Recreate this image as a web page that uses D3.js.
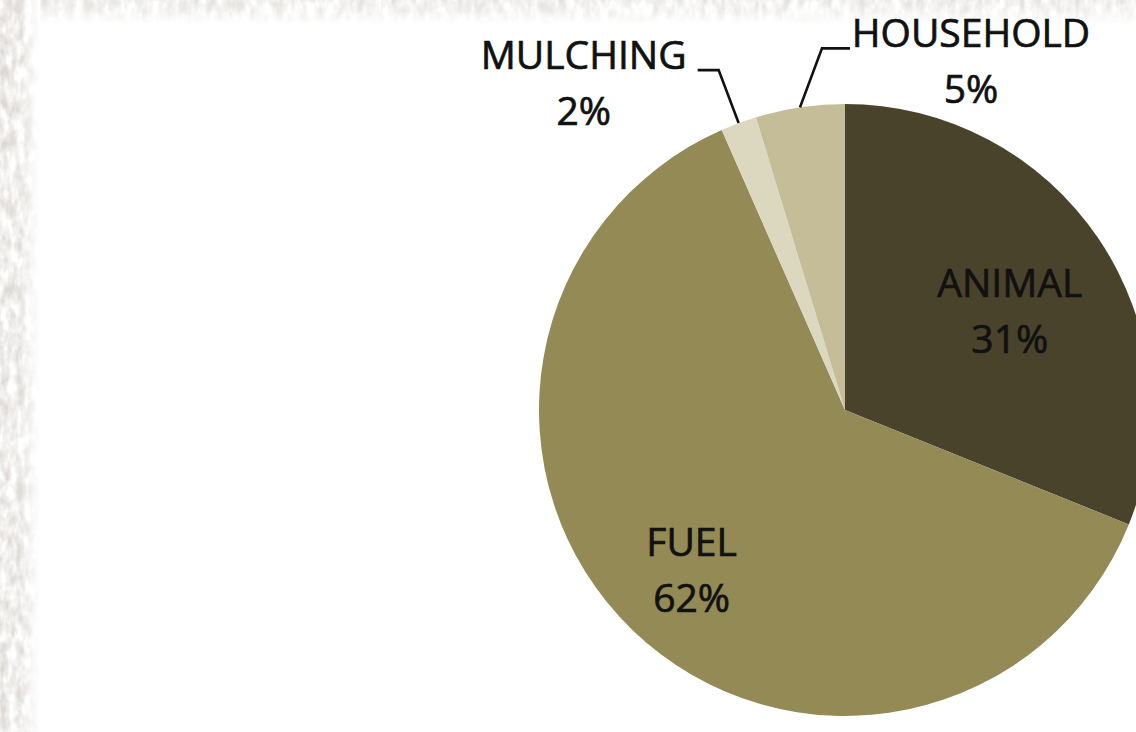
<!DOCTYPE html>
<html>
<head>
<meta charset="utf-8">
<script src="https://cdn.jsdelivr.net/npm/d3@7"></script>
<style>
  html, body { margin: 0; padding: 0; background: #fff; overflow: hidden; }
  svg { display: block; }
</style>
</head>
<body>
<div id="chart"></div>
<script>
// chart data
var categories = ['ANIMAL', 'FUEL', 'MULCHING', 'HOUSEHOLD'];
var values = [31.1, 62.3, 1.9, 4.7];
var labels = ['31%', '62%', '2%', '5%'];
var colors = ['#4a432b', '#938a55', '#dcd8c0', '#c4bd98'];

var width = 1136, height = 732;
var cx = 845, cy = 410, radius = 306;

var svg = d3.select('#chart').append('svg')
    .attr('width', width)
    .attr('height', height);

// textured frame on the left and top edge
var defs = svg.append('defs');
var filt = defs.append('filter').attr('id', 'stone')
    .attr('x', 0).attr('y', 0).attr('width', '100%').attr('height', '100%');
filt.append('feTurbulence')
    .attr('type', 'fractalNoise')
    .attr('baseFrequency', '0.12 0.06')
    .attr('numOctaves', 3)
    .attr('seed', 4);
filt.append('feColorMatrix')
    .attr('type', 'matrix')
    .attr('values', '0 0 0 0 0.72  0 0 0 0 0.69  0 0 0 0 0.66  -2.2 0 0 0 1.55');

var fadeL = defs.append('linearGradient').attr('id', 'fadeL')
    .attr('x1', 0).attr('x2', 1).attr('y1', 0).attr('y2', 0);
fadeL.append('stop').attr('offset', '0%').attr('stop-color', '#fff').attr('stop-opacity', 0);
fadeL.append('stop').attr('offset', '55%').attr('stop-color', '#fff').attr('stop-opacity', 0.15);
fadeL.append('stop').attr('offset', '100%').attr('stop-color', '#fff').attr('stop-opacity', 1);

var fadeT = defs.append('linearGradient').attr('id', 'fadeT')
    .attr('x1', 0).attr('x2', 0).attr('y1', 0).attr('y2', 1);
fadeT.append('stop').attr('offset', '0%').attr('stop-color', '#fff').attr('stop-opacity', 0.2);
fadeT.append('stop').attr('offset', '45%').attr('stop-color', '#fff').attr('stop-opacity', 0.45);
fadeT.append('stop').attr('offset', '100%').attr('stop-color', '#fff').attr('stop-opacity', 1);

var frame = svg.append('g');
frame.append('rect')
    .attr('x', 0).attr('y', 0).attr('width', width).attr('height', 24)
    .attr('fill', '#ece7e0')
    .attr('filter', 'url(#stone)');
frame.append('rect')
    .attr('x', 0).attr('y', 0).attr('width', width).attr('height', 24)
    .attr('fill', 'url(#fadeT)');
frame.append('rect')
    .attr('x', 0).attr('y', 0).attr('width', 40).attr('height', height)
    .attr('fill', '#d2c9bf')
    .attr('filter', 'url(#stone)');
frame.append('rect')
    .attr('x', 0).attr('y', 0).attr('width', 40).attr('height', height)
    .attr('fill', 'url(#fadeL)');

// pie
var pie = d3.pie().sort(null).value(d => d);
var arcs = pie(values);

var arc = d3.arc().innerRadius(0).outerRadius(radius);
var edge = d3.arc().innerRadius(radius).outerRadius(radius);

var g = svg.append('g')
    .attr('transform', 'translate(' + cx + ',' + cy + ')');

g.selectAll('path.slice')
    .data(arcs)
    .enter().append('path')
    .attr('class', 'slice')
    .attr('d', arc)
    .attr('fill', (d, i) => colors[i]);

var fontSize = 39, lineGap = 56;
var font = '"Open Sans", "DejaVu Sans", sans-serif';

function label(x, y, i) {
    var t = g.append('text')
        .attr('text-anchor', 'middle')
        .attr('font-family', font)
        .attr('font-size', fontSize)
        .attr('fill', '#111')
        .attr('stroke', '#111')
        .attr('stroke-width', 0.7);
    t.append('tspan').attr('x', x).attr('y', y).text(categories[i]);
    t.append('tspan').attr('x', x).attr('y', y + lineGap).text(labels[i]);
}

// inside labels (animal, fuel)
var inside = {
    0: {r: 0.63, nudge: [5, 9]},
    1: {r: 0.73, nudge: [2, 0]}
};
[0, 1].forEach(i => {
    var r = radius * inside[i].r;
    var c = d3.arc().innerRadius(r).outerRadius(r).centroid(arcs[i]);
    label(c[0] + inside[i].nudge[0], c[1] - 14 + inside[i].nudge[1], i);
});

// outside labels with leader lines (mulching, household)
var leaders = {
    2: {elbow: [-20, -53], run: -21, text: [-114, -1]},
    3: {elbow: [22, -59], run: 28, text: [121, -1]}
};
[2, 3].forEach(i => {
    var p = edge.centroid(arcs[i]);
    var L = leaders[i];
    var e = [p[0] + L.elbow[0], p[1] + L.elbow[1]];
    var end = [e[0] + L.run, e[1]];
    g.append('path')
        .attr('d', d3.line()([p, e, end]))
        .attr('fill', 'none')
        .attr('stroke', '#111')
        .attr('stroke-width', 2.6);
    label(end[0] + L.text[0], end[1] + L.text[1], i);
});
</script>
</body>
</html>
